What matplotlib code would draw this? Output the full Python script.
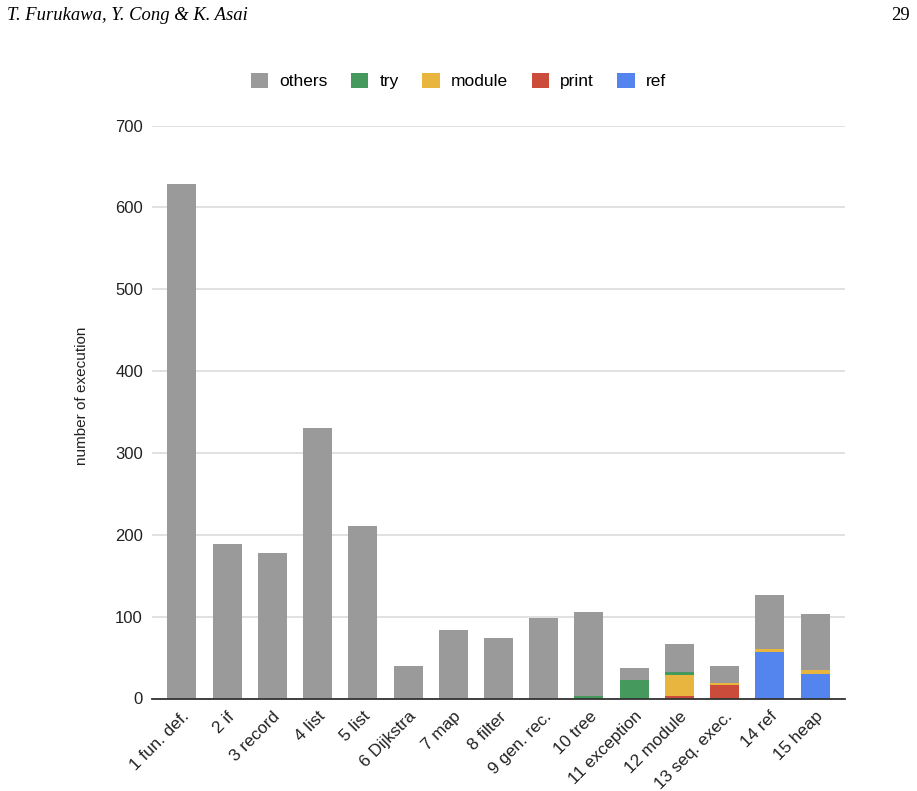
import numpy as np
import matplotlib
matplotlib.use("Agg")
import matplotlib.pyplot as plt

# --- data ---
categories = ["1 fun. def.", "2 if", "3 record", "4 list", "5 list", "6 Dijkstra",
              "7 map", "8 filter", "9 gen. rec.", "10 tree", "11 exception",
              "12 module", "13 seq. exec.", "14 ref", "15 heap"]
totals = [628, 189, 178, 331, 211, 40, 84, 74, 98, 106, 37, 66, 40, 126, 103]
ref_vals = [0, 0, 0, 0, 0, 0, 0, 0, 0, 0, 0, 0, 0, 57, 30]
print_vals = [0, 0, 0, 0, 0, 0, 0, 0, 0, 0, 0, 3, 17, 0, 0]
module_vals = [0, 0, 0, 0, 0, 0, 0, 0, 0, 0, 0, 26, 2, 3, 5]
try_vals = [0, 0, 0, 0, 0, 0, 0, 0, 0, 3, 22, 3, 0, 0, 0]
y_ticks = [0, 100, 200, 300, 400, 500, 600, 700]

colors = {
    "others": "#9a9a9a",
    "try": "#46995c",
    "module": "#e8b63e",
    "print": "#cb4c3b",
    "ref": "#5484ed",
}

plt.rcParams['font.family'] = ['Liberation Sans', 'DejaVu Sans']

ref_a = np.array(ref_vals)
print_a = np.array(print_vals)
module_a = np.array(module_vals)
try_a = np.array(try_vals)
others_a = np.array(totals) - ref_a - print_a - module_a - try_a

fig = plt.figure(figsize=(9.17, 7.91), dpi=100)
ax = fig.add_axes([152 / 917, 1 - 698.5 / 791, (845 - 152) / 917, (698.5 - 125.5) / 791])

x = np.arange(len(categories))
w = 0.64
bottom = np.zeros(len(categories))
handles = {}
for name, vals in [("ref", ref_a), ("print", print_a), ("module", module_a),
                   ("try", try_a), ("others", others_a)]:
    handles[name] = ax.bar(x, vals, w, bottom=bottom, color=colors[name],
                           linewidth=0, zorder=3)
    bottom += vals

ax.set_ylim(0, 700)
ax.set_xlim(-0.66, len(categories) - 1 + 0.66)
ax.set_yticks(y_ticks)
ax.yaxis.grid(True, color="#d9d9d9", linewidth=1.1, zorder=0)
ax.tick_params(axis="y", length=0, pad=6.5, labelsize=12, labelcolor="#222222")
ax.tick_params(axis="x", length=0, pad=7.5)
for s in ["top", "right", "left"]:
    ax.spines[s].set_visible(False)
ax.spines["bottom"].set_color("#333333")
ax.spines["bottom"].set_linewidth(1.3)
ax.spines["bottom"].set_zorder(4)

ax.set_xticks(x)
ax.set_xticklabels(categories, rotation=45, ha="right", va="top",
                   rotation_mode="anchor", fontsize=12.3, color="#222222")

fig.text(82 / 917, 1 - 396 / 791, "number of execution", rotation=90,
         fontsize=11, color="#222222", ha="center", va="center")

order = ["others", "try", "module", "print", "ref"]
fig.legend([handles[k] for k in order], order, loc="center", ncol=5,
           bbox_to_anchor=(0.5, 1 - 81 / 791), frameon=False, fontsize=12.5,
           handlelength=1.0, handleheight=1.0, handletextpad=0.65, columnspacing=1.35)

fig.text(7 / 917, 1 - 15 / 791, "T. Furukawa, Y. Cong & K. Asai",
         family="Liberation Serif", style="italic", fontsize=13.4, va="center", ha="left")
fig.text(910 / 917, 1 - 15 / 791, "29", family="Liberation Serif", fontsize=13.4,
         va="center", ha="right")

fig.savefig("out.png", dpi=100, facecolor="white")
